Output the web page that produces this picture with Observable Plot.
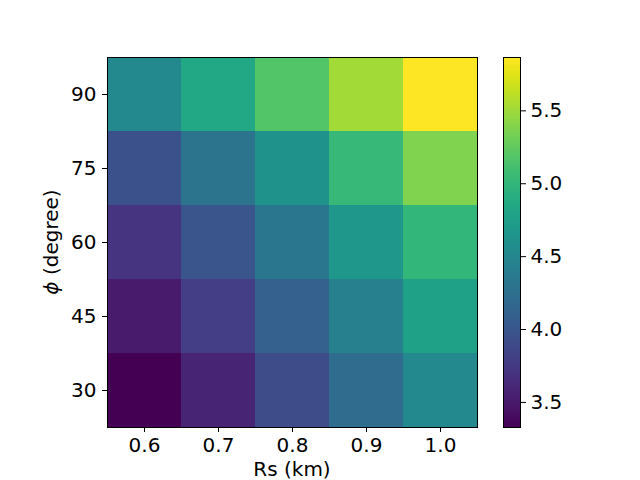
<!DOCTYPE html>
<html>
<head>
<meta charset="utf-8">
<script src="https://cdn.jsdelivr.net/npm/d3@7"></script>
<script src="https://cdn.jsdelivr.net/npm/@observablehq/plot@0.6"></script>
<style>
  html, body { margin: 0; padding: 0; background: #fff; }
  #wrap { position: relative; width: 640px; height: 480px; }
  #wrap > svg { position: absolute; left: 0; top: 0; }
</style>
</head>
<body>
<div id="wrap"></div>
<script>
// Categories
const rsValues = ["0.6", "0.7", "0.8", "0.9", "1.0"];
const phiValues = ["90", "75", "60", "45", "30"]; // top to bottom
// Values per phi row (columns follow rsValues)
const row90 = [4.52, 4.85, 5.18, 5.51, 5.86];
const row75 = [3.96, 4.29, 4.62, 5.03, 5.38];
const row60 = [3.71, 3.99, 4.32, 4.67, 5.00];
const row45 = [3.51, 3.79, 4.11, 4.42, 4.77];
const row30 = [3.33, 3.58, 3.91, 4.22, 4.52];
const colorTicks = [3.5, 4.0, 4.5, 5.0, 5.5];
const colorDomain = [3.328, 5.866];

const rows = [row90, row75, row60, row45, row30];
const cells = [];
phiValues.forEach((phi, i) => rsValues.forEach((rs, j) => cells.push({rs, phi, v: rows[i][j]})));

const font = "DejaVu Sans, sans-serif";
const fs = 20;

const main = Plot.plot({
  width: 640, height: 480,
  marginLeft: 107, marginRight: 163, marginTop: 57, marginBottom: 53,
  style: {fontFamily: font, fontSize: fs + "px", color: "#000", background: "transparent"},
  x: {type: "band", domain: rsValues, padding: 0},
  y: {type: "band", domain: phiValues, padding: 0},
  color: {type: "linear", scheme: "viridis", domain: colorDomain},
  marks: [
    Plot.cell(cells, {x: "rs", y: "phi", fill: "v"}),
    Plot.frame({stroke: "#000", strokeWidth: 1}),
    Plot.axisX({tickSize: 5, tickPadding: 5, label: null, fontSize: fs}),
    Plot.axisY({tickSize: 5, tickPadding: 6, label: null, fontSize: fs})
  ]
});

const bar = Plot.plot({
  width: 640, height: 480,
  marginLeft: 503, marginRight: 120, marginTop: 57, marginBottom: 53,
  style: {fontFamily: font, fontSize: fs + "px", color: "#000", background: "transparent"},
  x: {domain: [0, 1], axis: null},
  y: {domain: colorDomain, ticks: colorTicks, tickFormat: d3.format(".1f")},
  color: {type: "linear", scheme: "viridis", domain: colorDomain},
  marks: [
    Plot.raster({fill: (x, y) => y, x1: 0, x2: 1, y1: colorDomain[0], y2: colorDomain[1], width: 4, height: 370}),
    Plot.frame({stroke: "#000", strokeWidth: 1}),
    Plot.axisY({anchor: "right", ticks: colorTicks, tickSize: 5, tickPadding: 5, label: null, fontSize: fs, tickFormat: d3.format(".1f")})
  ]
});

const wrap = document.getElementById("wrap");
wrap.appendChild(bar);
wrap.appendChild(main);

// Axis titles
const svg = d3.select(main);
svg.append("text")
  .attr("x", 292).attr("y", 476)
  .attr("text-anchor", "middle")
  .attr("font-family", font).attr("font-size", fs).attr("fill", "#000")
  .text("Rs (km)");
const yl = svg.append("text")
  .attr("transform", "translate(58,242) rotate(-90)")
  .attr("text-anchor", "middle")
  .attr("font-family", font).attr("font-size", fs).attr("fill", "#000");
yl.append("tspan").attr("font-style", "italic").text("ϕ");
yl.append("tspan").text(" (degree)");
</script>
</body>
</html>
